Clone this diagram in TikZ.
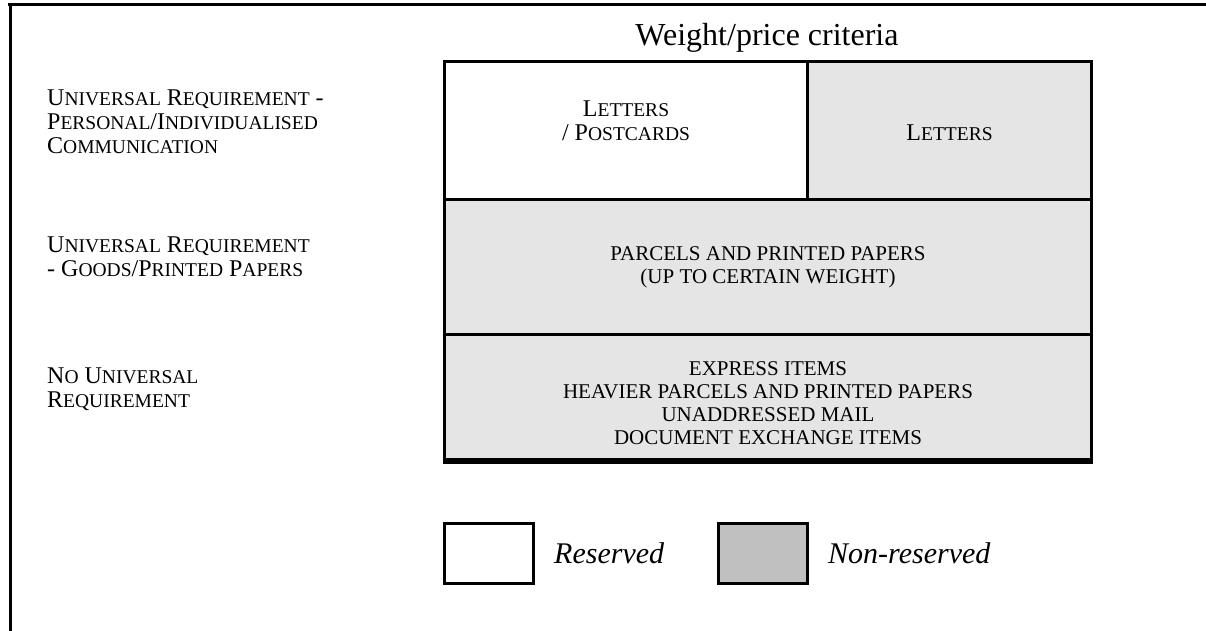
\documentclass[tikz,border=0pt]{standalone}
\usepackage{fontspec}
\setmainfont{Liberation Serif}
\usetikzlibrary{positioning}
\definecolor{cellGrey}{HTML}{E5E5E5}
\definecolor{keyGrey}{HTML}{C0C0C0}
\newcommand\capbig{\fontsize{24}{24}\selectfont}
\newcommand\lowcap[1]{{\fontsize{19.5}{24}\selectfont #1}}

\begin{document}
\begin{tikzpicture}[
  x=1pt, y=-1pt,
  frame/.style={line width=3pt, line cap=rect},
  cell/.style={draw=black, line width=3pt, inner sep=0pt, anchor=north west, align=center, font=\capbig},
  reserved/.style={cell, fill=white},
  open/.style={cell, fill=cellGrey},
  rowtext/.style={align=center, font=\fontsize{21}{23}\selectfont},
  sidelabel/.style={align=left, anchor=west, inner sep=0pt, font=\capbig},
  keybox/.style={draw=black, line width=3pt, anchor=north west, minimum width=89pt, minimum height=60pt},
  keytext/.style={font=\fontsize{30}{32}\selectfont\itshape, inner sep=0pt}
]
  \useasboundingbox (0,0) rectangle (1206,631);
  \draw[frame] (9,5) -- (1206,5);
  \draw[frame] (10,5) -- (10,631);

  \node[font=\fontsize{32}{34}\selectfont, anchor=base] (criteria) at (767,46) {Weight/price criteria};

  % table rows
  \node[reserved, minimum width=363pt, minimum height=138pt] (postcards) at (443,60) {};
  \node[font=\capbig, align=center] at ([yshift=10pt]postcards.center) {L\lowcap{ETTERS}\\/ P\lowcap{OSTCARDS}};
  \node[open, minimum width=284pt, minimum height=138pt] (letters) at (806,60) {};
  \node[font=\capbig] at ([yshift=-2pt]letters.center) {L\lowcap{ETTERS}};
  \node[open, minimum width=647pt, minimum height=135pt] (parcels) at (443,198) {};
  \node[rowtext] at (parcels.center) {PARCELS AND PRINTED PAPERS\\(UP TO CERTAIN WEIGHT)};
  \node[open, minimum width=647pt, minimum height=125pt] (express) at (443,333) {};
  \node[rowtext] at ([yshift=-6pt]express.center) {EXPRESS ITEMS\\HEAVIER PARCELS AND PRINTED PAPERS\\UNADDRESSED MAIL\\DOCUMENT EXCHANGE ITEMS};
  \draw[line width=5pt] (express.south west) -- (express.south east);

  % requirement labels
  \node[sidelabel] (personal) at (47,122)
    {U\lowcap{NIVERSAL} R\lowcap{EQUIREMENT} -\\P\lowcap{ERSONAL}/I\lowcap{NDIVIDUALISED}\\C\lowcap{OMMUNICATION}};
  \node[sidelabel] (goods) at (47,257)
    {U\lowcap{NIVERSAL} R\lowcap{EQUIREMENT}\\ - G\lowcap{OODS}/P\lowcap{RINTED} P\lowcap{APERS}};
  \node[sidelabel] (none) at (47,389)
    {N\lowcap{O} U\lowcap{NIVERSAL}\\R\lowcap{EQUIREMENT}};

  % key
  \node[keybox, fill=white] (reskey) at (443,522) {};
  \node[keytext, right=19pt of reskey] (restext) {Reserved};
  \node[keybox, fill=keyGrey] (openkey) at (717,522) {};
  \node[keytext, right=19pt of openkey] (opentext) {Non-reserved};
\end{tikzpicture}
\end{document}
